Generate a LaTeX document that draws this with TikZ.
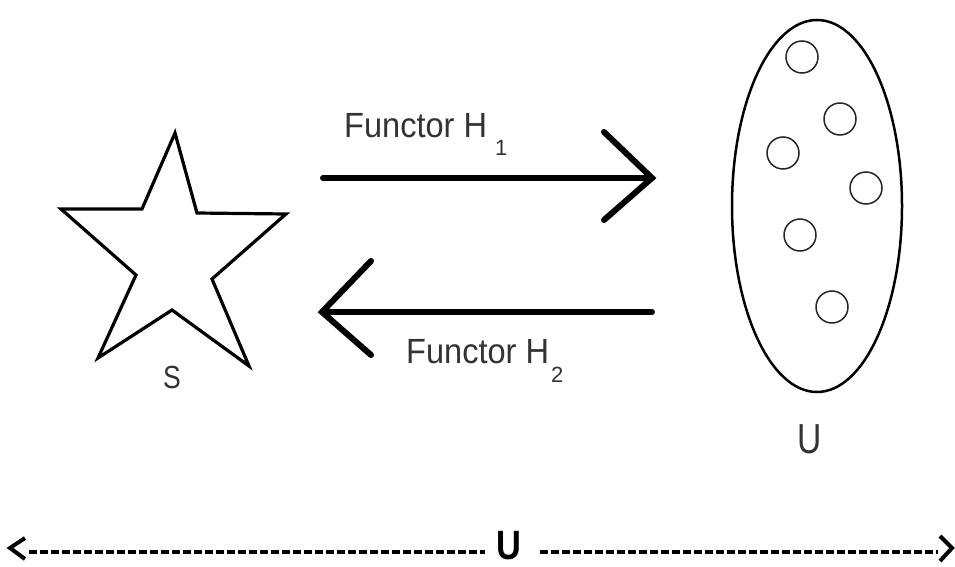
\documentclass[tikz,border=0pt]{standalone}
\usepackage{fontspec}
\setmainfont{Liberation Sans}
\usepackage{graphicx}
\usetikzlibrary{shapes.geometric}
\begin{document}
\begin{tikzpicture}[x=1pt,y=-1pt,
  outline/.style={line width=3.2pt,line join=miter},
  bigarrow/.style={line width=6pt,line cap=round,line join=miter},
  dot/.style={draw,circle,minimum size=32pt,inner sep=0pt,line width=1.5pt,black!85},
  lbl/.style={inner sep=0pt,text=black!80,font=\fontsize{35}{40}\selectfont},
  dashline/.style={line width=4.5pt,dash pattern=on 8pt off 3pt},
  chev/.style={line width=4pt,line join=miter}]
\useasboundingbox (0,0) rectangle (955,567);
\fill[white] (0,0) rectangle (955,567);
% star S
\draw[outline] (175,133) -- (142,209) -- (61,209) -- (136,275) -- (98,358)
  -- (172,310) -- (249,366) -- (212,279) -- (286,214) -- (197,213) -- cycle;
\node[lbl,anchor=base] (S) at (172,388) {\fontsize{32}{36}\selectfont\scalebox{0.83}[1]{S}};
% ellipse U
\node[draw,ellipse,line width=2.5pt,minimum width=170pt,minimum height=372pt,inner sep=0pt] (E) at (817,206) {};
\foreach \n/\px/\py in {1/802/57,2/840/119,3/783/153,4/866/188,5/800/235,6/832/307}
  \node[dot] (c\n) at (\px,\py) {};
\node[lbl,anchor=base] (Ul) at (810,453) {\fontsize{42}{46}\selectfont\scalebox{0.8}[1]{U}};
% functor H1
\coordinate (h1s) at (323,178);
\coordinate (h1e) at (652,178);
\coordinate (h1a) at (604,132);
\coordinate (h1b) at (604,220);
\draw[bigarrow] (h1s) -- (h1e);
\draw[bigarrow] (h1a) -- (h1e) -- (h1b);
\node[lbl,anchor=base west] (L1) at (344,137) {\scalebox{0.93}[1]{Functor H}\hspace{8pt}\raisebox{-18pt}{\fontsize{22}{24}\selectfont 1}};
% functor H2
\coordinate (h2s) at (652,312);
\coordinate (h2e) at (322,312);
\coordinate (h2a) at (371,261);
\coordinate (h2b) at (371,355);
\draw[bigarrow] (h2s) -- (h2e);
\draw[bigarrow] (h2a) -- (h2e) -- (h2b);
\node[lbl,anchor=base west] (L2) at (406,363) {\scalebox{0.93}[1]{Functor H}\hspace{2pt}\raisebox{-19pt}{\fontsize{22}{24}\selectfont 2}};
% bottom U span
\node[inner sep=0pt,anchor=base,font=\bfseries\fontsize{41}{44}\selectfont] (BU) at (509,559) {\scalebox{0.84}[1]{U}};
\coordinate (bl) at (10,548);
\coordinate (br) at (952,548);
\coordinate (bla) at (25,538);
\coordinate (blb) at (25,559);
\coordinate (bra) at (940,536);
\coordinate (brb) at (940,561);
\coordinate (dl1) at (29,552);
\coordinate (dl2) at (485,552);
\coordinate (dr1) at (540,552);
\coordinate (dr2) at (938,552);
\draw[dashline] (dl1) -- (dl2);
\draw[dashline] (dr1) -- (dr2);
\draw[chev] (bla) -- (bl) -- (blb);
\draw[chev] (bra) -- (br) -- (brb);
\end{tikzpicture}
\end{document}
